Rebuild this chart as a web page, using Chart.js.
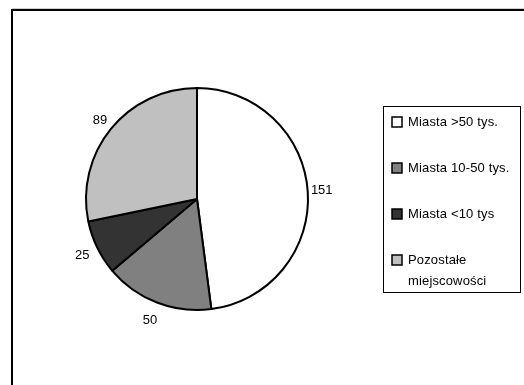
<!DOCTYPE html>
<html>

<head>
  <meta charset="utf-8">
  <script src="https://cdn.jsdelivr.net/npm/chart.js@4/dist/chart.umd.min.js"></script>
  <style>
    body { margin: 0; background: #fff; }
    #wrap { width: 524px; height: 385px; }
  </style>
</head>

<body>
  <div id="wrap"><canvas id="chart" width="524" height="385"></canvas></div>
  <script>
    var categories = ['Miasta >50 tys.', 'Miasta 10-50 tys.', 'Miasta <10 tys', 'Pozostałe miejscowości'];
    var values = [151, 50, 25, 89];
    var colors = ['#ffffff', '#808080', '#333333', '#c0c0c0'];

    var FONT = '"Liberation Sans", Arial, sans-serif';

    // frame round the whole chart (runs off the right and bottom edge)
    var framePlugin = {
      id: 'frame',
      beforeDraw: function (chart) {
        var ctx = chart.ctx;
        ctx.save();
        ctx.strokeStyle = '#d0d0d0';
        ctx.lineWidth = 1;
        ctx.beginPath();
        ctx.moveTo(12, 8.5);
        ctx.lineTo(524, 8.5);
        ctx.stroke();
        ctx.strokeStyle = '#000';
        ctx.lineWidth = 2;
        ctx.strokeRect(12, 10, 530, 400);
        ctx.restore();
      }
    };

    // value labels just outside each slice
    var valueLabels = {
      id: 'valueLabels',
      afterDatasetsDraw: function (chart) {
        var ctx = chart.ctx;
        var meta = chart.getDatasetMeta(0);
        ctx.save();
        ctx.font = '13px ' + FONT;
        ctx.fillStyle = '#000';
        ctx.textAlign = 'center';
        ctx.textBaseline = 'middle';
        meta.data.forEach(function (arc, i) {
          var p = arc.getProps(['x', 'y', 'startAngle', 'endAngle', 'outerRadius'], true);
          var mid = (p.startAngle + p.endAngle) / 2;
          var s = Math.sin(mid);
          // a little further out towards the bottom, a little closer at the sides
          var r = p.outerRadius + 14 + Math.max(0, s) * 6;
          ctx.fillText(String(chart.data.datasets[0].data[i]), p.x + Math.cos(mid) * r, p.y + s * r);
        });
        ctx.restore();
      }
    };

    function wrap(ctx, text, maxW) {
      var words = text.split(' ');
      var lines = [];
      var line = '';
      words.forEach(function (w) {
        var test = line ? line + ' ' + w : w;
        if (line && ctx.measureText(test).width > maxW) {
          lines.push(line);
          line = w;
        } else {
          line = test;
        }
      });
      lines.push(line);
      return lines;
    }

    // boxed legend on the right
    var boxLegend = {
      id: 'boxLegend',
      afterDraw: function (chart) {
        var ctx = chart.ctx;
        var bg = chart.data.datasets[0].backgroundColor;
        ctx.save();
        ctx.fillStyle = '#fff';
        ctx.fillRect(383, 106, 138, 187);
        ctx.strokeStyle = '#000';
        ctx.lineWidth = 1;
        ctx.strokeRect(383.5, 106.5, 137, 186);
        ctx.font = '13px ' + FONT;
        ctx.letterSpacing = '0.15px';
        ctx.textBaseline = 'middle';
        ctx.textAlign = 'left';
        var y = 122;
        chart.data.labels.forEach(function (label, i) {
          ctx.fillStyle = bg[i];
          ctx.fillRect(392, y - 5, 10, 10);
          ctx.strokeStyle = '#000';
          ctx.lineWidth = 1.5;
          ctx.strokeRect(392, y - 5, 10, 10);
          ctx.fillStyle = '#000';
          var lines = wrap(ctx, label, 108);
          lines.forEach(function (ln, k) {
            ctx.fillText(ln, 408, y + k * 21);
          });
          y += 46;
        });
        ctx.restore();
      }
    };

    new Chart('chart', {
      type: 'pie',
      data: {
        labels: categories,
        datasets: [{
          data: values,
          backgroundColor: colors,
          borderColor: '#000',
          borderWidth: 2
        }]
      },
      options: {
        responsive: false,
        animation: false,
        layout: { padding: { left: 85, top: 87, right: 215, bottom: 74 } },
        plugins: {
          legend: { display: false },
          tooltip: { enabled: false }
        }
      },
      plugins: [framePlugin, valueLabels, boxLegend]
    });
  </script>
</body>

</html>
